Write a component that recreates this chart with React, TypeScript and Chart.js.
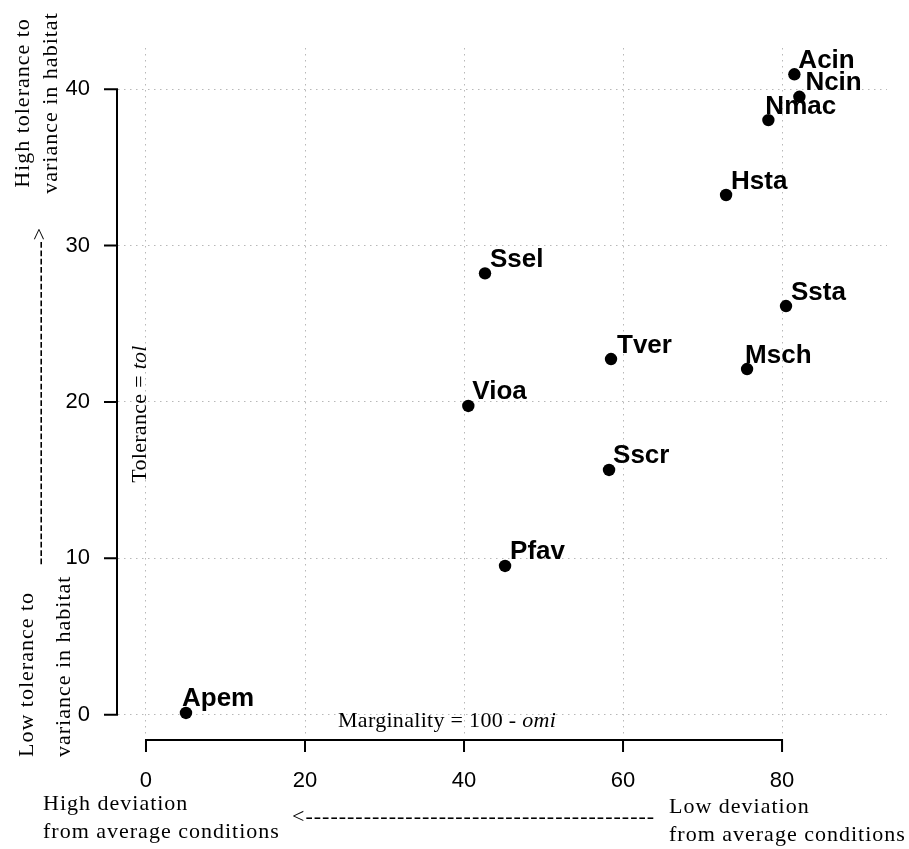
import React, { useEffect, useRef } from "react";
import { Chart, registerables } from "chart.js";

Chart.register(...registerables);

// ---- data ----
const species = ["Acin", "Ncin", "Nmac", "Hsta", "Ssel", "Tver", "Vioa", "Sscr", "Ssta", "Msch", "Pfav", "Apem"];
const marginality = [81.55, 82.18, 78.28, 72.96, 42.64, 58.49, 40.54, 58.24, 80.5, 75.6, 45.16, 5.03];
const tolerance = [40.95, 39.51, 38.02, 33.23, 28.22, 22.74, 19.74, 15.65, 26.13, 22.1, 9.51, 0.11];
const xTicks = [0, 20, 40, 60, 80];
const yTicks = [0, 10, 20, 30, 40];
// horizontal nudge of each species label (px), in the same order as species
const labelNudgeX = [4, 6, -3, 5, 5, 6, 4, 4, 5, -2, 5, -4];

const SERIF = "'Liberation Serif', 'Times New Roman', serif";
const SANS = "'Liberation Sans', Arial, Helvetica, sans-serif";
const TEXT = "#000";

type Seg = [string, boolean]; // text, italic

function segFont(italic: boolean, size: number) {
  return `${italic ? "italic " : ""}${size}px ${SERIF}`;
}

function drawSegs(ctx: CanvasRenderingContext2D, segs: Seg[], x: number, y: number, size: number, align: "left" | "center") {
  let total = 0;
  const widths = segs.map(([t, it]) => {
    ctx.font = segFont(it, size);
    const w = ctx.measureText(t).width;
    total += w;
    return w;
  });
  let cx = align === "center" ? x - total / 2 : x;
  ctx.textAlign = "left";
  segs.forEach(([t, it], i) => {
    ctx.font = segFont(it, size);
    ctx.fillText(t, cx, y);
    cx += widths[i];
  });
}

function dashArrow(ctx: CanvasRenderingContext2D, length: number, head: "<" | ">") {
  const wd = ctx.measureText("-").width;
  const wh = ctx.measureText(head).width;
  const n = Math.max(1, Math.round((length - wh) / wd));
  return head === "<" ? "<" + "-".repeat(n) : "-".repeat(n) + ">";
}

const decorPlugin = {
  id: "decor",
  afterDatasetsDraw(chart: any) {
    const ctx: CanvasRenderingContext2D = chart.ctx;
    const xs = chart.scales.x;
    const ys = chart.scales.y;
    const area = chart.chartArea;

    // species labels
    ctx.save();
    ctx.fillStyle = "#000";
    ctx.font = `bold 26px ${SANS}`;
    ctx.textAlign = "left";
    ctx.textBaseline = "alphabetic";
    const meta = chart.getDatasetMeta(0);
    meta.data.forEach((pt: any, i: number) => {
      ctx.fillText(species[i], pt.x + labelNudgeX[i], pt.y - 6.5);
    });
    ctx.restore();

    // axis lines (R style: from first to last tick)
    ctx.save();
    ctx.strokeStyle = "#000";
    ctx.lineWidth = 2;
    ctx.lineJoin = "miter";
    const axX = area.left - 1;
    const y0 = ys.getPixelForValue(yTicks[0]);
    const y1 = ys.getPixelForValue(yTicks[yTicks.length - 1]);
    ctx.beginPath();
    ctx.moveTo(axX - 13, y1);
    ctx.lineTo(axX, y1);
    ctx.lineTo(axX, y0);
    ctx.lineTo(axX - 13, y0);
    yTicks.slice(1, -1).forEach((v) => {
      const py = ys.getPixelForValue(v);
      ctx.moveTo(axX, py);
      ctx.lineTo(axX - 13, py);
    });
    ctx.stroke();

    const axY = area.bottom + 5;
    const x0 = xs.getPixelForValue(xTicks[0]);
    const x1 = xs.getPixelForValue(xTicks[xTicks.length - 1]);
    ctx.beginPath();
    ctx.moveTo(x0, axY + 12);
    ctx.lineTo(x0, axY);
    ctx.lineTo(x1, axY);
    ctx.lineTo(x1, axY + 12);
    xTicks.slice(1, -1).forEach((v) => {
      const px = xs.getPixelForValue(v);
      ctx.moveTo(px, axY);
      ctx.lineTo(px, axY + 12);
    });
    ctx.stroke();
    ctx.restore();

    // annotation texts
    ctx.save();
    ctx.fillStyle = TEXT;
    ctx.textBaseline = "alphabetic";

    // x axis title
    (ctx as any).letterSpacing = "0.3px";
    drawSegs(ctx, [["Marginality = 100 - ", false], ["omi", true]], 338, 727, 22, "left");
    (ctx as any).letterSpacing = "1px";

    // bottom-left / bottom-right explanations
    ctx.font = segFont(false, 22);
    ctx.textAlign = "left";
    ctx.fillText("High deviation", 43, 810);
    ctx.fillText("from average conditions", 43, 838);
    ctx.fillText("Low deviation", 669, 813);
    ctx.fillText("from average conditions", 669, 841);

    // horizontal arrow
    const hArrow = dashArrow(ctx, 361, "<");
    ctx.fillText(hArrow, 292, 823);

    // rotated texts
    const rot = (x: number, y: number, fn: () => void) => {
      ctx.save();
      ctx.translate(x, y);
      ctx.rotate(-Math.PI / 2);
      fn();
      ctx.restore();
    };
    rot(29, 103, () => {
      ctx.font = segFont(false, 22);
      ctx.textAlign = "center";
      ctx.fillText("High tolerance to", 0, 0);
    });
    rot(57, 103, () => {
      ctx.font = segFont(false, 22);
      ctx.textAlign = "center";
      ctx.fillText("variance in habitat", 0, 0);
    });
    rot(33, 757, () => {
      ctx.font = segFont(false, 22);
      ctx.textAlign = "left";
      ctx.fillText("Low tolerance to", 0, 0);
    });
    rot(70, 757, () => {
      ctx.font = segFont(false, 22);
      ctx.textAlign = "left";
      ctx.fillText("variance in habitat", 0, 0);
    });
    rot(146, 414, () => {
      (ctx as any).letterSpacing = "0.3px";
      drawSegs(ctx, [["Tolerance = ", false], ["tol", true]], 0, 0, 22, "center");
    });
    rot(45.5, 565, () => {
      (ctx as any).letterSpacing = "1px";
      ctx.font = segFont(false, 22);
      ctx.textAlign = "left";
      ctx.fillText(dashArrow(ctx, 337, ">"), 0, 0);
    });
    ctx.restore();
  },
};

export default function App() {
  const ref = useRef<HTMLCanvasElement | null>(null);

  useEffect(() => {
    if (!ref.current) return;
    const points = marginality.map((m, i) => ({ x: m, y: tolerance[i] }));
    const chart = new Chart(ref.current, {
      type: "scatter",
      data: {
        datasets: [
          {
            label: "species",
            data: points,
            pointRadius: 6.2,
            pointHoverRadius: 6.2,
            backgroundColor: "#000",
            borderColor: "#000",
            borderWidth: 0,
          },
        ],
      },
      options: {
        responsive: false,
        animation: false,
        events: [],
        layout: { padding: { top: 48, right: 22, left: 0, bottom: 0 } },
        plugins: { legend: { display: false }, tooltip: { enabled: false } },
        scales: {
          x: {
            type: "linear",
            min: -3.52,
            max: 93.2,
            afterFit: (s: any) => {
              s.height = 114;
            },
            afterBuildTicks: (s: any) => {
              s.ticks = xTicks.map((v) => ({ value: v }));
            },
            grid: { color: "#b8b8b8", lineWidth: 1, drawTicks: false },
            border: { display: false, dash: [1.5, 4.5] },
            ticks: {
              padding: 33,
              color: "#000",
              font: { family: SANS, size: 22 },
              callback: (v: any) => String(v),
            },
          },
          y: {
            type: "linear",
            min: -1.3,
            max: 42.63,
            afterFit: (s: any) => {
              s.width = 118;
            },
            afterBuildTicks: (s: any) => {
              s.ticks = yTicks.map((v) => ({ value: v }));
            },
            grid: { color: "#b8b8b8", lineWidth: 1, drawTicks: false },
            border: { display: false, dash: [1.5, 4.5] },
            ticks: {
              padding: 28,
              color: "#000",
              font: { family: SANS, size: 22 },
              callback: (v: any) => String(v),
            },
          },
        },
      },
      plugins: [decorPlugin],
    });
    return () => chart.destroy();
  }, []);

  return (
    <div style={{ position: "absolute", left: 0, top: 0, width: 909, height: 849, background: "#fff" }}>
      <canvas ref={ref} width={909} height={849} style={{ display: "block" }} />
    </div>
  );
}
